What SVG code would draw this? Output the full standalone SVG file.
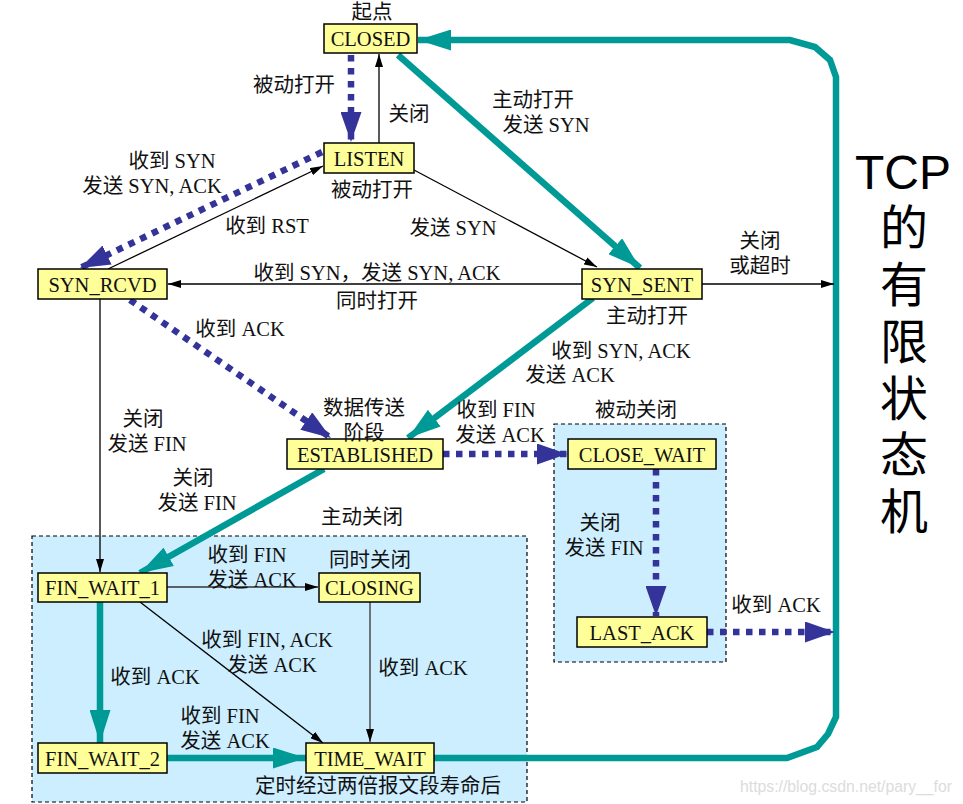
<svg xmlns="http://www.w3.org/2000/svg" width="963" height="804" viewBox="0 0 963 804">
<style>
.node rect{fill:#ffff99;stroke:#000;stroke-width:1.5}
.node text,.lbl{font-family:"Liberation Serif","Noto Sans CJK SC",serif;font-size:20.5px;fill:#111;text-anchor:middle}
.node text{dominant-baseline:central}
.zone{fill:#cdeeff;stroke:#000;stroke-width:1.2;stroke-dasharray:4 3}
.thin{stroke:#000;stroke-width:1.3;fill:none;marker-end:url(#ak)}
.teal{stroke:#009a96;stroke-width:6.5;fill:none;marker-end:url(#at)}
.dot{stroke:#333399;stroke-width:6.5;fill:none;stroke-dasharray:6.5 6.5;marker-end:url(#ab)}
.big{font-family:"Liberation Sans","Noto Sans CJK SC",sans-serif;font-size:48px;fill:#000;text-anchor:middle}
.wm{font-family:"Liberation Sans",sans-serif;font-size:16px;fill:#dcdcdc}
</style>
<defs>
<marker id="ak" markerUnits="userSpaceOnUse" markerWidth="13" markerHeight="8" viewBox="0 0 13 8" refX="13" refY="4" orient="auto"><path d="M0,0 L13,4 L0,8 z" fill="#000"/></marker>
<marker id="at" markerUnits="userSpaceOnUse" markerWidth="33" markerHeight="21" viewBox="0 0 33 21" refX="33" refY="10.5" orient="auto"><path d="M0,0 L33,10.5 L0,21 z" fill="#009a96"/></marker>
<marker id="ab" markerUnits="userSpaceOnUse" markerWidth="30" markerHeight="21" viewBox="0 0 30 21" refX="30" refY="10.5" orient="auto"><path d="M0,0 L30,10.5 L0,21 z" fill="#333399"/></marker>
</defs>

<rect class="zone" x="32" y="536" width="495" height="266"/>
<rect class="zone" x="554" y="424" width="172" height="238"/>

<g id="connectors">
<path class="teal" d="M434,758 L787,758 L817,747 L828,734 L836,717 L836,77 L830,60 L815,47 L790,40 L418,40"/>
<line class="dot" x1="351" y1="55" x2="351" y2="142"/>
<line class="thin" x1="379" y1="143" x2="379" y2="54"/>
<line class="teal" x1="398" y1="55" x2="640" y2="268"/>
<line class="dot" x1="322" y1="152" x2="80" y2="268"/>
<line class="thin" x1="108" y1="269" x2="323" y2="166"/>
<line class="thin" x1="414" y1="170" x2="597" y2="267"/>
<line class="thin" x1="582" y1="284" x2="168" y2="284"/>
<line class="thin" x1="702" y1="284" x2="834" y2="284"/>
<line class="teal" x1="593" y1="298" x2="408" y2="438"/>
<line class="dot" x1="130" y1="300" x2="331" y2="438"/>
<line class="thin" x1="100" y1="299" x2="100" y2="572"/>
<line class="teal" x1="324" y1="469" x2="140" y2="573"/>
<line class="dot" x1="443" y1="454" x2="567" y2="454"/>
<line class="dot" x1="656" y1="469" x2="656" y2="616"/>
<line class="dot" x1="707" y1="632" x2="835" y2="632"/>
<line class="thin" x1="167" y1="587" x2="318" y2="587" style="stroke:#333"/>
<line class="thin" x1="140" y1="602" x2="323" y2="743"/>
<line class="thin" x1="370" y1="602" x2="370" y2="742" style="stroke:#333"/>
<line class="teal" x1="100" y1="602" x2="100" y2="743"/>
<line class="teal" x1="167" y1="758" x2="306" y2="758"/>
</g>

<g id="CLOSED" class="node"><rect x="324" y="24" width="93" height="29"/><text x="370.5" y="39">CLOSED</text></g>
<g id="LISTEN" class="node"><rect x="324" y="143" width="90" height="30"/><text x="369" y="158.5">LISTEN</text></g>
<g id="SYN_RCVD" class="node"><rect x="38" y="269" width="129" height="30"/><text x="102.5" y="284.5">SYN_RCVD</text></g>
<g id="SYN_SENT" class="node"><rect x="582" y="269" width="120" height="30"/><text x="642" y="284.5">SYN_SENT</text></g>
<g id="ESTABLISHED" class="node"><rect x="287" y="439" width="156" height="30"/><text x="365" y="454.5">ESTABLISHED</text></g>
<g id="CLOSE_WAIT" class="node"><rect x="568" y="439" width="148" height="30"/><text x="642" y="454.5">CLOSE_WAIT</text></g>
<g id="LAST_ACK" class="node"><rect x="577" y="617" width="130" height="30"/><text x="642" y="632.5">LAST_ACK</text></g>
<g id="FIN_WAIT_1" class="node"><rect x="38" y="573" width="129" height="29"/><text x="102.5" y="588">FIN_WAIT_1</text></g>
<g id="CLOSING" class="node"><rect x="319" y="573" width="101" height="29"/><text x="369.5" y="588">CLOSING</text></g>
<g id="FIN_WAIT_2" class="node"><rect x="38" y="743" width="129" height="30"/><text x="102.5" y="758.5">FIN_WAIT_2</text></g>
<g id="TIME_WAIT" class="node"><rect x="306" y="743" width="128" height="30"/><text x="370" y="758.5">TIME_WAIT</text></g>

<g id="labels">
<text class="lbl" x="372" y="19">起点</text>
<text class="lbl" x="294" y="92">被动打开</text>
<text class="lbl" x="409" y="121">关闭</text>
<text class="lbl" x="533" y="107">主动打开</text>
<text class="lbl" x="546" y="132">发送 SYN</text>
<text class="lbl" x="172" y="168">收到 SYN</text>
<text class="lbl" x="152" y="193">发送 SYN, ACK</text>
<text class="lbl" x="372" y="197">被动打开</text>
<text class="lbl" x="267" y="233">收到 RST</text>
<text class="lbl" x="453" y="235">发送 SYN</text>
<text class="lbl" x="377" y="280">收到 SYN，发送 SYN, ACK</text>
<text class="lbl" x="377" y="308">同时打开</text>
<text class="lbl" x="760" y="248">关闭</text>
<text class="lbl" x="760" y="273">或超时</text>
<text class="lbl" x="647" y="323">主动打开</text>
<text class="lbl" x="240" y="336">收到 ACK</text>
<text class="lbl" x="621" y="358">收到 SYN, ACK</text>
<text class="lbl" x="570" y="382">发送 ACK</text>
<text class="lbl" x="364" y="415">数据传送</text>
<text class="lbl" x="364" y="440">阶段</text>
<text class="lbl" x="496" y="417">收到 FIN</text>
<text class="lbl" x="500" y="442">发送 ACK</text>
<text class="lbl" x="636" y="417">被动关闭</text>
<text class="lbl" x="143" y="426">关闭</text>
<text class="lbl" x="147" y="451">发送 FIN</text>
<text class="lbl" x="193" y="485">关闭</text>
<text class="lbl" x="197" y="510">发送 FIN</text>
<text class="lbl" x="362" y="524">主动关闭</text>
<text class="lbl" x="600" y="530">关闭</text>
<text class="lbl" x="604" y="555">发送 FIN</text>
<text class="lbl" x="247" y="562">收到 FIN</text>
<text class="lbl" x="252" y="587">发送 ACK</text>
<text class="lbl" x="370" y="567">同时关闭</text>
<text class="lbl" x="776" y="612">收到 ACK</text>
<text class="lbl" x="267" y="647">收到 FIN, ACK</text>
<text class="lbl" x="272" y="672">发送 ACK</text>
<text class="lbl" x="423" y="675">收到 ACK</text>
<text class="lbl" x="155" y="684">收到 ACK</text>
<text class="lbl" x="220" y="723">收到 FIN</text>
<text class="lbl" x="225" y="748">发送 ACK</text>
<text class="lbl" x="378" y="793">定时经过两倍报文段寿命后</text>
</g>

<g id="title">
<text class="big" x="903" y="189">TCP</text>
<text class="big" x="904" y="245">的</text>
<text class="big" x="904" y="302">有</text>
<text class="big" x="904" y="359">限</text>
<text class="big" x="904" y="416">状</text>
<text class="big" x="904" y="472">态</text>
<text class="big" x="904" y="529">机</text>
</g>
<text class="wm" x="740" y="792" textLength="212" lengthAdjust="spacingAndGlyphs">https://blog.csdn.net/pary__for</text>
</svg>
